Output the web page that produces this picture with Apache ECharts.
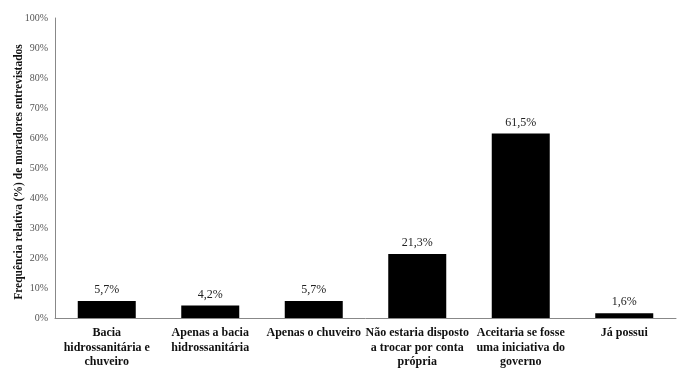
<!DOCTYPE html>
<html><head><meta charset="utf-8">
<script src="https://cdn.jsdelivr.net/npm/echarts@6/dist/echarts.min.js"></script>
<style>html,body{margin:0;padding:0;background:#fff}#c{width:681px;height:378px}</style>
</head><body><div id="c"></div>
<script>
const categories = ["Bacia\nhidrossanitária e\nchuveiro","Apenas a bacia\nhidrossanitária","Apenas o chuveiro","Não estaria disposto\na trocar por conta\nprópria","Aceitaria se fosse\numa iniciativa do\ngoverno","Já possui"];
const values = [5.7, 4.2, 5.7, 21.3, 61.5, 1.6];
const yAxisTitle = "Frequência relativa (%) de moradores entrevistados";
const chart = echarts.init(document.getElementById('c'));
chart.setOption({
  animation:false,
  grid:{left:55,right:5,top:18,bottom:60,containLabel:false,outerBoundsMode:'none'},
  xAxis:{type:'category',data:categories,
    axisLine:{lineStyle:{color:'#888',width:1}},axisTick:{show:false},
    axisLabel:{interval:0,fontFamily:'Liberation Serif',fontWeight:'bold',fontSize:12,color:'#111',lineHeight:14.5,margin:8}},
  yAxis:{type:'value',min:0,max:100,interval:10,
    name:yAxisTitle,nameLocation:'middle',nameGap:30,nameRotate:90,nameMoveOverlap:false,
    nameTextStyle:{fontFamily:'Liberation Serif',fontWeight:'bold',fontSize:11.5,color:'#111',padding:[0,8,0,0]},
    axisLine:{show:true,lineStyle:{color:'#888'}},axisTick:{show:false},splitLine:{show:false},
    axisLabel:{formatter:'{value}%',fontFamily:'Liberation Serif',fontSize:10,color:'#555',margin:7}},
  series:[{type:'bar',data:values,barWidth:58,itemStyle:{color:'#000'},
    label:{show:true,position:'top',distance:5,fontFamily:'Liberation Serif',fontSize:12,color:'#222',
      formatter:p=>p.value.toFixed(1).replace('.',',')+'%'}}]
});
</script></body></html>
